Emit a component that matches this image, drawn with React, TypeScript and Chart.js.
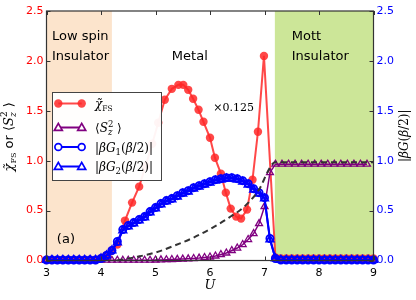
import React, { useEffect, useRef } from "react";
import { Chart, registerables } from "chart.js";
Chart.register(...registerables);

// ---------------- data ----------------
const U_GRID = [3.0, 3.1, 3.2, 3.3, 3.4, 3.5, 3.6, 3.7, 3.8, 3.9, 4.0, 4.1, 4.2, 4.3, 4.4, 4.5, 4.6, 4.7, 4.8, 4.9, 5.0, 5.1, 5.2, 5.3, 5.4, 5.5, 5.6, 5.7, 5.8, 5.9, 6.0, 6.1, 6.2, 6.3, 6.4, 6.5, 6.6, 6.7, 6.8, 6.9, 7.0, 7.1, 7.2];
const U_MOTT = [7.3, 7.4, 7.5, 7.6, 7.7, 7.8, 7.9, 8.0, 8.1, 8.2, 8.3, 8.4, 8.5, 8.6, 8.7, 8.8, 8.9, 9.0];

const U_RED = [3.0, 3.1, 3.2, 3.3, 3.4, 3.5, 3.6, 3.7, 3.8, 3.9, 4.0, 4.1, 4.2, 4.3, 4.44, 4.57, 4.7, 4.82, 4.94, 5.05, 5.17, 5.3, 5.42, 5.51, 5.6, 5.69, 5.79, 5.88, 6.0, 6.09, 6.2, 6.29, 6.38, 6.48, 6.57, 6.68, 6.78, 6.88, 6.99, 7.2, 7.3, 7.4, 7.5, 7.6, 7.7, 7.8, 7.9, 8.0, 8.1, 8.2, 8.3, 8.4, 8.5, 8.6, 8.7, 8.8, 8.9, 9.0];
const CHI_FS = [0.005, 0.005, 0.005, 0.005, 0.005, 0.005, 0.005, 0.005, 0.005, 0.005, 0.02, 0.05, 0.10, 0.16, 0.40, 0.58, 0.74, 0.95, 1.17, 1.38, 1.61, 1.72, 1.76, 1.76, 1.71, 1.62, 1.51, 1.39, 1.23, 1.03, 0.87, 0.68, 0.52, 0.44, 0.42, 0.51, 0.81, 1.29, 2.05, 0.03, 0.02, 0.02, 0.02, 0.02, 0.02, 0.02, 0.02, 0.02, 0.02, 0.02, 0.02, 0.02, 0.02, 0.02, 0.02, 0.02, 0.02, 0.02];

const BG1 = [0.005, 0.005, 0.005, 0.005, 0.005, 0.005, 0.005, 0.005, 0.005, 0.005, 0.02, 0.05, 0.10, 0.19, 0.31, 0.35, 0.38, 0.41, 0.44, 0.49, 0.53, 0.57, 0.60, 0.62, 0.65, 0.68, 0.70, 0.73, 0.75, 0.77, 0.79, 0.81, 0.82, 0.83, 0.83, 0.82, 0.80, 0.77, 0.72, 0.68, 0.63, 0.22, 0.02, 0.005, 0.005, 0.005, 0.005, 0.005, 0.005, 0.005, 0.005, 0.005, 0.005, 0.005, 0.005, 0.005, 0.005, 0.005, 0.005, 0.005, 0.005];
const BG2 = [0.005, 0.005, 0.005, 0.005, 0.005, 0.005, 0.005, 0.005, 0.005, 0.005, 0.02, 0.05, 0.10, 0.18, 0.30, 0.34, 0.37, 0.40, 0.43, 0.48, 0.52, 0.56, 0.59, 0.61, 0.64, 0.67, 0.69, 0.72, 0.74, 0.76, 0.78, 0.80, 0.81, 0.82, 0.82, 0.81, 0.79, 0.76, 0.71, 0.67, 0.62, 0.21, 0.02, 0.005, 0.005, 0.005, 0.005, 0.005, 0.005, 0.005, 0.005, 0.005, 0.005, 0.005, 0.005, 0.005, 0.005, 0.005, 0.005, 0.005, 0.005];

const U_S2_MOTT = [7.32, 7.44, 7.56, 7.68, 7.8, 7.92, 8.04, 8.16, 8.28, 8.4, 8.52, 8.64, 8.76, 8.88, 9.0];
const SZ2 = [0.003, 0.003, 0.003, 0.003, 0.003, 0.003, 0.003, 0.003, 0.003, 0.003, 0.003, 0.003, 0.003, 0.003, 0.003, 0.003, 0.003, 0.003, 0.003, 0.003, 0.005, 0.006, 0.008, 0.01, 0.012, 0.014, 0.017, 0.02, 0.024, 0.03, 0.035, 0.045, 0.06, 0.075, 0.10, 0.125, 0.16, 0.21, 0.27, 0.37, 0.54, 0.88, 0.965, 0.965, 0.965, 0.965, 0.965, 0.965, 0.965, 0.965, 0.965, 0.965, 0.965, 0.965, 0.965, 0.965, 0.965];

const U_DASH = [4.3, 4.6, 5.0, 5.35, 5.7, 6.05, 6.35, 6.65, 6.92, 7.05, 7.15, 7.2, 9.0];
const DASH = [0.0, 0.03, 0.08, 0.15, 0.23, 0.33, 0.43, 0.55, 0.73, 0.88, 0.97, 0.985, 0.985];

const X_TICKS = [3, 4, 5, 6, 7, 8, 9];
const Y_TICKS = [0, 0.5, 1.0, 1.5, 2.0, 2.5];
const LOW_SPIN_RANGE = [3, 4.2];
const MOTT_RANGE = [7.19, 9];
const SCALE_NOTE = "×0.125";

// ---------------- helpers ----------------
const pts = (xs: number[], ys: number[]) => xs.map((x, i) => ({ x, y: ys[i] }));

type Seg = { t: string; f: string; dy?: number; adv?: boolean };
function segsWidth(ctx: CanvasRenderingContext2D, segs: Seg[]) {
  let w = 0;
  for (const s of segs) {
    ctx.font = s.f;
    if (s.adv !== false) w += ctx.measureText(s.t).width;
  }
  return w;
}
function drawSegs(ctx: CanvasRenderingContext2D, x: number, y: number, segs: Seg[]) {
  let cx = x;
  ctx.textAlign = "left";
  ctx.textBaseline = "alphabetic";
  for (const s of segs) {
    ctx.font = s.f;
    ctx.fillText(s.t, cx, y + (s.dy || 0));
    if (s.adv !== false) cx += ctx.measureText(s.t).width;
  }
}

const SANS = '"DejaVu Sans", sans-serif';
const SERIF = '"DejaVu Serif", serif';

function tri(ctx: CanvasRenderingContext2D, x: number, y: number, r: number) {
  ctx.beginPath();
  ctx.moveTo(x, y - r);
  ctx.lineTo(x + r * 0.866, y + r * 0.5);
  ctx.lineTo(x - r * 0.866, y + r * 0.5);
  ctx.closePath();
}

const overlay = {
  id: "overlay",
  beforeDatasetsDraw(chart: any) {
    const { ctx, chartArea: a, scales } = chart;
    const xs = scales.x;
    const ys = scales.y;
    ctx.save();
    ctx.fillStyle = "rgba(252,228,204,1)";
    const l0 = xs.getPixelForValue(LOW_SPIN_RANGE[0]);
    const l1 = xs.getPixelForValue(LOW_SPIN_RANGE[1]);
    ctx.fillRect(l0, a.top, l1 - l0, a.bottom - a.top);
    ctx.fillStyle = "rgba(204,230,152,1)";
    const m0 = xs.getPixelForValue(MOTT_RANGE[0]);
    const m1 = xs.getPixelForValue(MOTT_RANGE[1]);
    ctx.fillRect(m0, a.top, m1 - m0, a.bottom - a.top);

    ctx.fillStyle = "#000";
    ctx.font = "13px " + SANS;
    ctx.textAlign = "left";
    ctx.textBaseline = "middle";
    const T = (t: string, u: number, v: number) => ctx.fillText(t, xs.getPixelForValue(u), ys.getPixelForValue(v));
    T("Low spin", 3.1, 2.24);
    T("Insulator", 3.1, 2.04);
    T("Metal", 5.3, 2.04);
    T("Mott", 7.5, 2.24);
    T("Insulator", 7.5, 2.04);
    T("(a)", 3.19, 0.21);
    ctx.font = "11px " + SERIF;
    T(SCALE_NOTE, 6.06, 1.53);
    ctx.restore();
  },
  afterDatasetsDraw(chart: any) {
    const { ctx, chartArea: a, scales } = chart;
    const xs = scales.x;
    const ys = scales.y;
    ctx.save();
    // spines
    ctx.strokeStyle = "#333";
    ctx.lineWidth = 1.2;
    ctx.strokeRect(a.left, a.top, a.right - a.left, a.bottom - a.top);
    // inside ticks
    ctx.lineWidth = 1;
    ctx.beginPath();
    for (const v of X_TICKS) {
      const px = Math.round(xs.getPixelForValue(v)) + 0.5;
      ctx.moveTo(px, a.bottom);
      ctx.lineTo(px, a.bottom - 4);
      ctx.moveTo(px, a.top);
      ctx.lineTo(px, a.top + 4);
    }
    for (const v of Y_TICKS) {
      const py = Math.round(ys.getPixelForValue(v)) + 0.5;
      ctx.moveTo(a.left, py);
      ctx.lineTo(a.left + 4, py);
      ctx.moveTo(a.right, py);
      ctx.lineTo(a.right - 4, py);
    }
    ctx.stroke();

    // legend
    const bx = 52, by = 92, bw = 109, bh = 88;
    ctx.fillStyle = "rgba(255,255,255,0.95)";
    ctx.fillRect(bx, by, bw, bh);
    ctx.strokeStyle = "#444";
    ctx.lineWidth = 1;
    ctx.strokeRect(bx + 0.5, by + 0.5, bw, bh);

    const LI = "italic 12px " + SERIF;
    const LR = "12px " + SERIF;
    const LS = "8.5px " + SERIF;
    const LSI = "italic 8.5px " + SERIF;
    const x0 = 58.3, x1 = 81.7, tx = 95;
    const rows: { y: number; color: string; marker: string; fill: string; segs: Seg[] }[] = [
      { y: 103.5, color: "rgba(255,40,40,0.85)", marker: "circle", fill: "rgba(255,40,40,0.85)", segs: [{ t: "χ̃", f: LI }, { t: "FS", f: "7.5px " + SERIF, dy: 3 }] },
      { y: 127.5, color: "#800080", marker: "tri", fill: "none", segs: [{ t: "⟨", f: LR }, { t: "S", f: LI }, { t: "z", f: LSI, dy: 3, adv: false }, { t: "2", f: LS, dy: -5 }, { t: " ⟩", f: LR }] },
      { y: 147, color: "#0000ff", marker: "circle", fill: "none", segs: [{ t: "|", f: LR }, { t: "βG", f: LI }, { t: "1", f: LS, dy: 3 }, { t: "(", f: LR }, { t: "β", f: LI }, { t: "/2)|", f: LR }] },
      { y: 166.5, color: "#0000ff", marker: "tri", fill: "none", segs: [{ t: "|", f: LR }, { t: "βG", f: LI }, { t: "2", f: LS, dy: 3 }, { t: "(", f: LR }, { t: "β", f: LI }, { t: "/2)|", f: LR }] },
    ];
    for (const r of rows) {
      ctx.strokeStyle = r.color;
      ctx.lineWidth = 2;
      ctx.beginPath();
      ctx.moveTo(x0, r.y);
      ctx.lineTo(x1, r.y);
      ctx.stroke();
      for (const mx of [x0, x1]) {
        ctx.lineWidth = 1.7;
        if (r.marker === "circle") {
          ctx.beginPath();
          ctx.arc(mx, r.y, r.fill === "none" ? 3.4 : 4.2, 0, Math.PI * 2);
        } else {
          tri(ctx, mx, r.y + 0.5, 4.6);
        }
        if (r.fill !== "none") {
          ctx.fillStyle = r.fill;
          ctx.fill();
        } else {
          ctx.fillStyle = "#fff";
          ctx.fill();
          ctx.stroke();
        }
      }
      ctx.fillStyle = "#000";
      drawSegs(ctx, tx, r.y + 4.5, r.segs);
    }

    // axis titles
    const MI = "italic 13px " + SERIF;
    const MR = "13px " + SERIF;
    const MS = "9px " + SERIF;
    const MSI = "italic 9px " + SERIF;
    ctx.fillStyle = "#000";
    const left: Seg[] = [
      { t: "χ̃", f: MI }, { t: "FS", f: "8px " + SERIF, dy: 3 }, { t: " or ", f: "13px " + SANS },
      { t: "⟨", f: MR }, { t: "S", f: MI }, { t: "z", f: MSI, dy: 3, adv: false }, { t: "2", f: MS, dy: -5.5 }, { t: " ⟩", f: MR },
    ];
    ctx.save();
    ctx.translate(8, (a.top + a.bottom) / 2 + 1);
    ctx.rotate(-Math.PI / 2);
    drawSegs(ctx, -segsWidth(ctx, left) / 2, 4.5, left);
    ctx.restore();

    const right: Seg[] = [{ t: "|", f: "12px " + SERIF }, { t: "βG", f: "italic 12px " + SERIF }, { t: "(", f: "12px " + SERIF }, { t: "β", f: "italic 12px " + SERIF }, { t: "/2)|", f: "12px " + SERIF }];
    ctx.save();
    ctx.translate(403, (a.top + a.bottom) / 2);
    ctx.rotate(-Math.PI / 2);
    drawSegs(ctx, -segsWidth(ctx, right) / 2, 4.5, right);
    ctx.restore();

    ctx.font = "italic 13px " + SERIF;
    ctx.textAlign = "center";
    ctx.textBaseline = "middle";
    ctx.fillText("U", (a.left + a.right) / 2, 286);
    ctx.restore();
  },
};

export default function App() {
  const ref = useRef<HTMLCanvasElement>(null);
  useEffect(() => {
    if (!ref.current) return;
    const red = "rgba(255,40,40,0.85)";
    const chart = new Chart(ref.current, {
      type: "line",
      data: {
        datasets: [
          {
            label: "dash",
            data: pts(U_DASH, DASH),
            borderColor: "#333",
            borderWidth: 2,
            borderDash: [6, 4],
            pointRadius: 0,
            cubicInterpolationMode: "monotone",
            order: 1,
            clip: false,
          } as any,
          {
            label: "G2",
            data: pts([...U_GRID, ...U_MOTT], BG2),
            borderColor: "#0000ff",
            borderWidth: 2,
            pointStyle: "triangle",
            pointRadius: 4.2,
            pointBorderWidth: 1.8,
            pointBackgroundColor: "rgba(255,255,255,0)",
            pointBorderColor: "#0000ff",
            order: 2,
            clip: false,
          },
          {
            label: "G1",
            data: pts([...U_GRID, ...U_MOTT], BG1),
            borderColor: "#0000ff",
            borderWidth: 2,
            pointStyle: "circle",
            pointRadius: 3.6,
            pointBorderWidth: 1.8,
            pointBackgroundColor: "rgba(255,255,255,0)",
            pointBorderColor: "#0000ff",
            order: 3,
            clip: false,
          },
          {
            label: "Sz2",
            data: pts([...U_GRID, ...U_S2_MOTT], SZ2),
            borderColor: "#800080",
            borderWidth: 1.5,
            pointStyle: "triangle",
            pointRadius: 4,
            pointBorderWidth: 1.3,
            pointBackgroundColor: "rgba(255,255,255,0)",
            pointBorderColor: "#800080",
            order: 4,
            clip: false,
          },
          {
            label: "chi",
            data: pts(U_RED, CHI_FS),
            borderColor: red,
            borderWidth: 2,
            pointStyle: "circle",
            pointRadius: 4.2,
            pointBorderWidth: 0,
            pointBackgroundColor: red,
            order: 5,
            clip: false,
          },
        ],
      },
      options: {
        responsive: false,
        animation: false,
        devicePixelRatio: 1,
        events: [],
        layout: { padding: { top: 11, left: 0, right: 0, bottom: 0 } },
        plugins: { legend: { display: false }, tooltip: { enabled: false } },
        scales: {
          x: {
            type: "linear",
            min: 3,
            max: 9,
            afterBuildTicks: (s: any) => { s.ticks = X_TICKS.map((v) => ({ value: v })); },
            afterFit: (s: any) => { s.height = 39.5; },
            grid: { display: false, drawTicks: false },
            border: { display: false },
            ticks: { color: "#000", font: { family: "DejaVu Sans", size: 11 }, padding: 6, maxRotation: 0, callback: (v: any) => String(v) },
          },
          y: {
            position: "left",
            min: 0,
            max: 2.5,
            afterBuildTicks: (s: any) => { s.ticks = Y_TICKS.map((v) => ({ value: v })); },
            afterFit: (s: any) => { s.width = 46.5; },
            grid: { display: false, drawTicks: false },
            border: { display: false },
            ticks: { color: "#ff0000", font: { family: "DejaVu Sans", size: 11 }, padding: 3, callback: (v: any) => Number(v).toFixed(1) },
          },
          y2: {
            position: "right",
            min: 0,
            max: 2.5,
            afterBuildTicks: (s: any) => { s.ticks = Y_TICKS.map((v) => ({ value: v })); },
            afterFit: (s: any) => { s.width = 42.5; },
            grid: { display: false, drawTicks: false },
            border: { display: false },
            ticks: { color: "#0000ff", font: { family: "DejaVu Sans", size: 11 }, padding: 3, callback: (v: any) => Number(v).toFixed(1) },
          },
        },
      },
      plugins: [overlay],
    } as any);
    return () => chart.destroy();
  }, []);
  return (
    <div style={{ position: "absolute", left: 0, top: 0, width: 416, height: 300, background: "#fff" }}>
      <canvas ref={ref} width={416} height={300} style={{ display: "block", width: 416, height: 300 }} />
    </div>
  );
}
